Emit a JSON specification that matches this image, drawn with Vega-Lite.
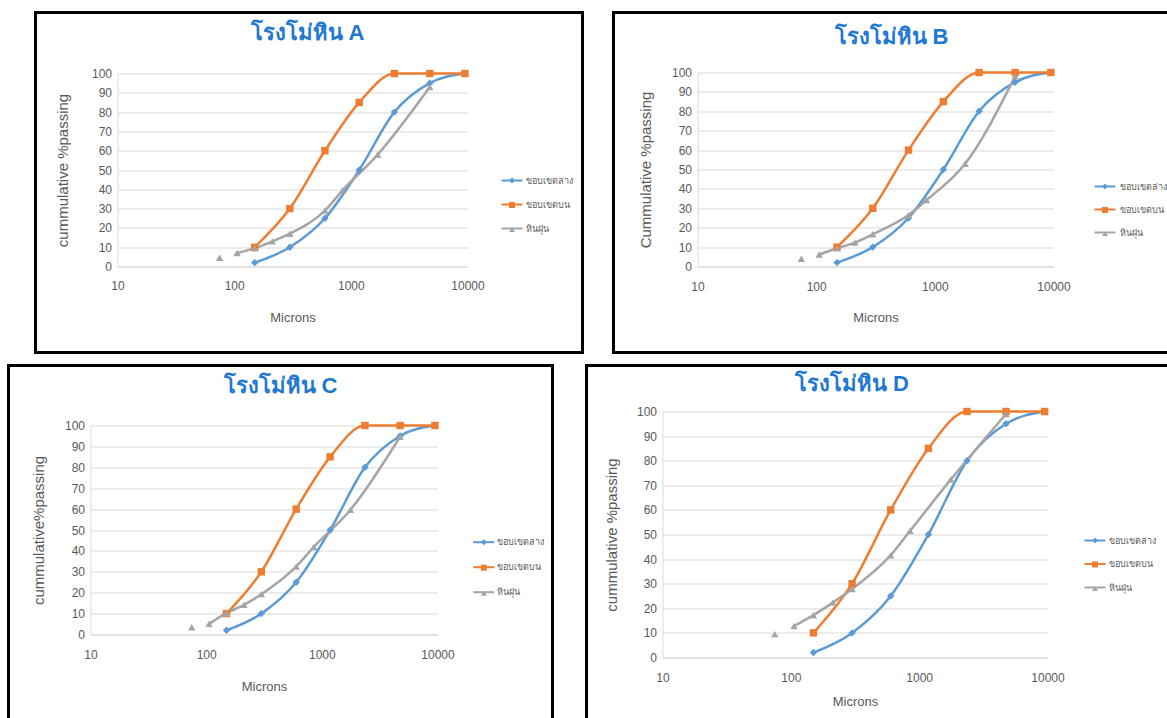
{
  "$schema": "https://vega.github.io/schema/vega-lite/v6.json",
  "padding": {"left": 6.5, "top": 10.5, "right": 0, "bottom": 0},
  "background": "white",
  "config": {
    "font": "Liberation Sans",
    "view": {"stroke": null},
    "axis": {"labelColor": "#595959", "titleColor": "#595959", "titleFontWeight": "normal", "domainColor": "#d9d9d9", "gridColor": "#d9d9d9", "ticks": false, "tickSize": 0, "labelFontSize": 12},
    "title": {"fontSize": 22, "fontWeight": "bold", "color": "#1f78d1", "frame": "group", "anchor": "middle", "baseline": "alphabetic"}
  },
  "datasets": {
    "sieve": [
      {"panel": "A", "series": "ขอบเขตล่าง", "micron": 150, "pct": 2},
      {"panel": "A", "series": "ขอบเขตล่าง", "micron": 300, "pct": 10},
      {"panel": "A", "series": "ขอบเขตล่าง", "micron": 600, "pct": 25},
      {"panel": "A", "series": "ขอบเขตล่าง", "micron": 1180, "pct": 50},
      {"panel": "A", "series": "ขอบเขตล่าง", "micron": 2360, "pct": 80},
      {"panel": "A", "series": "ขอบเขตล่าง", "micron": 4750, "pct": 95},
      {"panel": "A", "series": "ขอบเขตล่าง", "micron": 9500, "pct": 100},
      {"panel": "A", "series": "ขอบเขตบน", "micron": 150, "pct": 10},
      {"panel": "A", "series": "ขอบเขตบน", "micron": 300, "pct": 30},
      {"panel": "A", "series": "ขอบเขตบน", "micron": 600, "pct": 60},
      {"panel": "A", "series": "ขอบเขตบน", "micron": 1180, "pct": 85},
      {"panel": "A", "series": "ขอบเขตบน", "micron": 2360, "pct": 100},
      {"panel": "A", "series": "ขอบเขตบน", "micron": 4750, "pct": 100},
      {"panel": "A", "series": "ขอบเขตบน", "micron": 9500, "pct": 100},
      {"panel": "A", "series": "หินฝุ่น", "micron": 75, "pct": 4.5},
      {"panel": "A", "series": "หินฝุ่น", "micron": 106, "pct": 7},
      {"panel": "A", "series": "หินฝุ่น", "micron": 150, "pct": 9.5},
      {"panel": "A", "series": "หินฝุ่น", "micron": 212, "pct": 13},
      {"panel": "A", "series": "หินฝุ่น", "micron": 300, "pct": 17},
      {"panel": "A", "series": "หินฝุ่น", "micron": 600, "pct": 29},
      {"panel": "A", "series": "หินฝุ่น", "micron": 850, "pct": 39.5},
      {"panel": "A", "series": "หินฝุ่น", "micron": 1700, "pct": 58},
      {"panel": "A", "series": "หินฝุ่น", "micron": 4750, "pct": 93},
      {"panel": "B", "series": "ขอบเขตล่าง", "micron": 150, "pct": 2},
      {"panel": "B", "series": "ขอบเขตล่าง", "micron": 300, "pct": 10},
      {"panel": "B", "series": "ขอบเขตล่าง", "micron": 600, "pct": 25},
      {"panel": "B", "series": "ขอบเขตล่าง", "micron": 1180, "pct": 50},
      {"panel": "B", "series": "ขอบเขตล่าง", "micron": 2360, "pct": 80},
      {"panel": "B", "series": "ขอบเขตล่าง", "micron": 4750, "pct": 95},
      {"panel": "B", "series": "ขอบเขตล่าง", "micron": 9500, "pct": 100},
      {"panel": "B", "series": "ขอบเขตบน", "micron": 150, "pct": 10},
      {"panel": "B", "series": "ขอบเขตบน", "micron": 300, "pct": 30},
      {"panel": "B", "series": "ขอบเขตบน", "micron": 600, "pct": 60},
      {"panel": "B", "series": "ขอบเขตบน", "micron": 1180, "pct": 85},
      {"panel": "B", "series": "ขอบเขตบน", "micron": 2360, "pct": 100},
      {"panel": "B", "series": "ขอบเขตบน", "micron": 4750, "pct": 100},
      {"panel": "B", "series": "ขอบเขตบน", "micron": 9500, "pct": 100},
      {"panel": "B", "series": "หินฝุ่น", "micron": 75, "pct": 4},
      {"panel": "B", "series": "หินฝุ่น", "micron": 106, "pct": 6.2},
      {"panel": "B", "series": "หินฝุ่น", "micron": 150, "pct": 9.4},
      {"panel": "B", "series": "หินฝุ่น", "micron": 212, "pct": 12.3},
      {"panel": "B", "series": "หินฝุ่น", "micron": 300, "pct": 16.6},
      {"panel": "B", "series": "หินฝุ่น", "micron": 600, "pct": 26.5},
      {"panel": "B", "series": "หินฝุ่น", "micron": 850, "pct": 34.2},
      {"panel": "B", "series": "หินฝุ่น", "micron": 1800, "pct": 53},
      {"panel": "B", "series": "หินฝุ่น", "micron": 4750, "pct": 98},
      {"panel": "C", "series": "ขอบเขตล่าง", "micron": 150, "pct": 2},
      {"panel": "C", "series": "ขอบเขตล่าง", "micron": 300, "pct": 10},
      {"panel": "C", "series": "ขอบเขตล่าง", "micron": 600, "pct": 25},
      {"panel": "C", "series": "ขอบเขตล่าง", "micron": 1180, "pct": 50},
      {"panel": "C", "series": "ขอบเขตล่าง", "micron": 2360, "pct": 80},
      {"panel": "C", "series": "ขอบเขตล่าง", "micron": 4750, "pct": 95},
      {"panel": "C", "series": "ขอบเขตล่าง", "micron": 9500, "pct": 100},
      {"panel": "C", "series": "ขอบเขตบน", "micron": 150, "pct": 10},
      {"panel": "C", "series": "ขอบเขตบน", "micron": 300, "pct": 30},
      {"panel": "C", "series": "ขอบเขตบน", "micron": 600, "pct": 60},
      {"panel": "C", "series": "ขอบเขตบน", "micron": 1180, "pct": 85},
      {"panel": "C", "series": "ขอบเขตบน", "micron": 2360, "pct": 100},
      {"panel": "C", "series": "ขอบเขตบน", "micron": 4750, "pct": 100},
      {"panel": "C", "series": "ขอบเขตบน", "micron": 9500, "pct": 100},
      {"panel": "C", "series": "หินฝุ่น", "micron": 75, "pct": 3.5},
      {"panel": "C", "series": "หินฝุ่น", "micron": 106, "pct": 5.1},
      {"panel": "C", "series": "หินฝุ่น", "micron": 150, "pct": 10.2},
      {"panel": "C", "series": "หินฝุ่น", "micron": 212, "pct": 14.2},
      {"panel": "C", "series": "หินฝุ่น", "micron": 300, "pct": 19.3},
      {"panel": "C", "series": "หินฝุ่น", "micron": 600, "pct": 32.5},
      {"panel": "C", "series": "หินฝุ่น", "micron": 850, "pct": 41.8},
      {"panel": "C", "series": "หินฝุ่น", "micron": 1770, "pct": 59.7},
      {"panel": "C", "series": "หินฝุ่น", "micron": 4750, "pct": 94.6},
      {"panel": "D", "series": "ขอบเขตล่าง", "micron": 150, "pct": 2},
      {"panel": "D", "series": "ขอบเขตล่าง", "micron": 300, "pct": 10},
      {"panel": "D", "series": "ขอบเขตล่าง", "micron": 600, "pct": 25},
      {"panel": "D", "series": "ขอบเขตล่าง", "micron": 1180, "pct": 50},
      {"panel": "D", "series": "ขอบเขตล่าง", "micron": 2360, "pct": 80},
      {"panel": "D", "series": "ขอบเขตล่าง", "micron": 4750, "pct": 95},
      {"panel": "D", "series": "ขอบเขตล่าง", "micron": 9500, "pct": 100},
      {"panel": "D", "series": "ขอบเขตบน", "micron": 150, "pct": 10},
      {"panel": "D", "series": "ขอบเขตบน", "micron": 300, "pct": 30},
      {"panel": "D", "series": "ขอบเขตบน", "micron": 600, "pct": 60},
      {"panel": "D", "series": "ขอบเขตบน", "micron": 1180, "pct": 85},
      {"panel": "D", "series": "ขอบเขตบน", "micron": 2360, "pct": 100},
      {"panel": "D", "series": "ขอบเขตบน", "micron": 4750, "pct": 100},
      {"panel": "D", "series": "ขอบเขตบน", "micron": 9500, "pct": 100},
      {"panel": "D", "series": "หินฝุ่น", "micron": 75, "pct": 9.5},
      {"panel": "D", "series": "หินฝุ่น", "micron": 106, "pct": 12.8},
      {"panel": "D", "series": "หินฝุ่น", "micron": 150, "pct": 17.2},
      {"panel": "D", "series": "หินฝุ่น", "micron": 212, "pct": 22.3},
      {"panel": "D", "series": "หินฝุ่น", "micron": 300, "pct": 27.8},
      {"panel": "D", "series": "หินฝุ่น", "micron": 600, "pct": 41.6},
      {"panel": "D", "series": "หินฝุ่น", "micron": 850, "pct": 51.5},
      {"panel": "D", "series": "หินฝุ่น", "micron": 1760, "pct": 72.3},
      {"panel": "D", "series": "หินฝุ่น", "micron": 4750, "pct": 99}
    ],
    "none": []
  },
  "spacing": 9,
  "resolve": {"scale": {"color": "independent", "stroke": "independent", "shape": "independent"}, "legend": {"color": "independent", "stroke": "independent", "shape": "independent"}},
  "vconcat": [
    {
      "spacing": 24,
      "resolve": {"scale": {"color": "independent", "stroke": "independent", "shape": "independent"}, "legend": {"color": "independent", "stroke": "independent", "shape": "independent"}},
      "hconcat": [
        {"width": 1, "height": 1, "data": {"name": "none"}, "mark": {"type": "point", "opacity": 0}},
        {
          "spacing": 27,
          "resolve": {"scale": {"color": "independent", "stroke": "independent", "shape": "independent"}, "legend": {"color": "independent", "stroke": "independent", "shape": "independent"}},
          "hconcat": [
            {
              "width": 547, "height": 340,
              "view": {"stroke": "black", "strokeWidth": 3},
              "data": {"name": "sieve"},
              "title": {"text": "โรงโม่หิน A", "dx": -1.5, "offset": -32.5},
              "transform": [{"filter": "datum.panel == 'A'"}],
              "encoding": {
                "x": {"field": "micron", "type": "quantitative", "scale": {"type": "log", "domain": [10, 10000], "range": [82, 432]}, "axis": {"values": [10, 100, 1000, 10000], "format": "d", "grid": false, "offset": -86, "labelPadding": 14, "labelFlush": false, "title": "Microns", "titleFontSize": 13, "titlePadding": 20}},
                "y": {"field": "pct", "type": "quantitative", "scale": {"domain": [0, 100], "range": [254, 61]}, "axis": {"values": [0, 10, 20, 30, 40, 50, 60, 70, 80, 90, 100], "grid": true, "offset": -82, "labelPadding": 6, "title": "cummulative %passing", "titleFontSize": 15, "titleX": -47.5}}
              },
              "layer": [
                {"transform": [{"filter": "datum.series != 'หินฝุ่น' || datum.micron > 80"}], "mark": {"type": "line", "interpolate": "monotone", "strokeWidth": 2.5},
                 "encoding": {"stroke": {"field": "series", "type": "nominal", "sort": ["ขอบเขตล่าง", "ขอบเขตบน", "หินฝุ่น"], "scale": {"range": ["#5B9BD5", "#ED7D31", "#A5A5A5"]},
                   "legend": {"orient": "none", "legendX": 465, "legendY": 156.5, "title": null, "symbolType": "stroke", "symbolSize": 441, "symbolStrokeWidth": 2, "labelFontSize": 9, "labelColor": "#595959", "labelOffset": 2, "rowPadding": 7, "padding": 0}}}},
                {"mark": {"type": "point", "filled": true, "size": 55, "opacity": 1},
                 "encoding": {
                   "color": {"field": "series", "type": "nominal", "scale": {"domain": ["ขอบเขตล่าง", "ขอบเขตบน", "หินฝุ่น"], "range": ["#5B9BD5", "#ED7D31", "#A5A5A5"]},
                     "legend": {"orient": "none", "legendX": 472, "legendY": 163.5, "title": null, "symbolSize": 36, "labelFontSize": 9, "labelExpr": "''", "labelOffset": 2, "rowPadding": 14.5, "padding": 0}},
                   "shape": {"field": "series", "type": "nominal", "scale": {"domain": ["ขอบเขตล่าง", "ขอบเขตบน", "หินฝุ่น"], "range": ["diamond", "square", "triangle-up"]},
                     "legend": {"orient": "none", "legendX": 472, "legendY": 163.5, "title": null, "symbolSize": 36, "labelFontSize": 9, "labelExpr": "''", "labelOffset": 2, "rowPadding": 14.5, "padding": 0}}
                 }}
              ]
            },
            {
              "width": 557, "height": 340,
              "view": {"stroke": "black", "strokeWidth": 3},
              "data": {"name": "sieve"},
              "title": {"text": "โรงโม่หิน B", "dx": -0.5, "offset": -36.5},
              "transform": [{"filter": "datum.panel == 'B'"}],
              "encoding": {
                "x": {"field": "micron", "type": "quantitative", "scale": {"type": "log", "domain": [10, 10000], "range": [84, 440]}, "axis": {"values": [10, 100, 1000, 10000], "format": "d", "grid": false, "offset": -86, "labelPadding": 15, "labelFlush": false, "title": "Microns", "titleFontSize": 13, "titlePadding": 19}},
                "y": {"field": "pct", "type": "quantitative", "scale": {"domain": [0, 100], "range": [254, 60]}, "axis": {"values": [0, 10, 20, 30, 40, 50, 60, 70, 80, 90, 100], "grid": true, "offset": -84, "labelPadding": 6, "title": "Cummulative %passing", "titleFontSize": 15, "titleX": -44.5}}
              },
              "layer": [
                {"transform": [{"filter": "datum.series != 'หินฝุ่น' || datum.micron > 80"}], "mark": {"type": "line", "interpolate": "monotone", "strokeWidth": 2.5},
                 "encoding": {"stroke": {"field": "series", "type": "nominal", "sort": ["ขอบเขตล่าง", "ขอบเขตบน", "หินฝุ่น"], "scale": {"range": ["#5B9BD5", "#ED7D31", "#A5A5A5"]},
                   "legend": {"orient": "none", "legendX": 480, "legendY": 162.5, "title": null, "symbolType": "stroke", "symbolSize": 441, "symbolStrokeWidth": 2, "labelFontSize": 9, "labelColor": "#595959", "labelOffset": 3, "rowPadding": 6, "padding": 0}}}},
                {"mark": {"type": "point", "filled": true, "size": 55, "opacity": 1},
                 "encoding": {
                   "color": {"field": "series", "type": "nominal", "scale": {"domain": ["ขอบเขตล่าง", "ขอบเขตบน", "หินฝุ่น"], "range": ["#5B9BD5", "#ED7D31", "#A5A5A5"]},
                     "legend": {"orient": "none", "legendX": 487, "legendY": 169.5, "title": null, "symbolSize": 36, "labelFontSize": 9, "labelExpr": "''", "labelOffset": 2, "rowPadding": 13.5, "padding": 0}},
                   "shape": {"field": "series", "type": "nominal", "scale": {"domain": ["ขอบเขตล่าง", "ขอบเขตบน", "หินฝุ่น"], "range": ["diamond", "square", "triangle-up"]},
                     "legend": {"orient": "none", "legendX": 487, "legendY": 169.5, "title": null, "symbolSize": 36, "labelFontSize": 9, "labelExpr": "''", "labelOffset": 2, "rowPadding": 13.5, "padding": 0}}
                 }}
              ]
            }
          ]
        }
      ]
    },
    {
      "spacing": 30,
      "resolve": {"scale": {"color": "independent", "stroke": "independent", "shape": "independent"}, "legend": {"color": "independent", "stroke": "independent", "shape": "independent"}},
      "hconcat": [
        {
          "width": 544, "height": 360,
          "view": {"stroke": "black", "strokeWidth": 3},
          "data": {"name": "sieve"},
          "title": {"text": "โรงโม่หิน C", "dx": 0, "offset": -32.5},
          "transform": [{"filter": "datum.panel == 'C'"}],
          "encoding": {
            "x": {"field": "micron", "type": "quantitative", "scale": {"type": "log", "domain": [10, 10000], "range": [82, 429]}, "axis": {"values": [10, 100, 1000, 10000], "format": "d", "grid": false, "offset": -91, "labelPadding": 15, "labelFlush": false, "title": "Microns", "titleFontSize": 13, "titlePadding": 20}},
            "y": {"field": "pct", "type": "quantitative", "scale": {"domain": [0, 100], "range": [269, 60]}, "axis": {"values": [0, 10, 20, 30, 40, 50, 60, 70, 80, 90, 100], "grid": true, "offset": -82, "labelPadding": 6, "title": "cummulative%passing", "titleFontSize": 15, "titleX": -44.5}}
          },
          "layer": [
            {"transform": [{"filter": "datum.series != 'หินฝุ่น' || datum.micron > 80"}], "mark": {"type": "line", "interpolate": "monotone", "strokeWidth": 2.5},
             "encoding": {"stroke": {"field": "series", "type": "nominal", "sort": ["ขอบเขตล่าง", "ขอบเขตบน", "หินฝุ่น"], "scale": {"range": ["#5B9BD5", "#ED7D31", "#A5A5A5"]},
               "legend": {"orient": "none", "legendX": 463.8, "legendY": 165.2, "title": null, "symbolType": "stroke", "symbolSize": 441, "symbolStrokeWidth": 2, "labelFontSize": 9, "labelColor": "#595959", "labelOffset": 2, "rowPadding": 8, "padding": 0}}}},
            {"mark": {"type": "point", "filled": true, "size": 55, "opacity": 1},
             "encoding": {
               "color": {"field": "series", "type": "nominal", "scale": {"domain": ["ขอบเขตล่าง", "ขอบเขตบน", "หินฝุ่น"], "range": ["#5B9BD5", "#ED7D31", "#A5A5A5"]},
                 "legend": {"orient": "none", "legendX": 470.8, "legendY": 172.2, "title": null, "symbolSize": 36, "labelFontSize": 9, "labelExpr": "''", "labelOffset": 2, "rowPadding": 15.5, "padding": 0}},
               "shape": {"field": "series", "type": "nominal", "scale": {"domain": ["ขอบเขตล่าง", "ขอบเขตบน", "หินฝุ่น"], "range": ["diamond", "square", "triangle-up"]},
                 "legend": {"orient": "none", "legendX": 470.8, "legendY": 172.2, "title": null, "symbolSize": 36, "labelFontSize": 9, "labelExpr": "''", "labelOffset": 2, "rowPadding": 15.5, "padding": 0}}
             }}
          ]
        },
        {
          "width": 584, "height": 360,
          "view": {"stroke": "black", "strokeWidth": 3},
          "data": {"name": "sieve"},
          "title": {"text": "โรงโม่หิน D", "dx": -26.5, "offset": -30.5},
          "transform": [{"filter": "datum.panel == 'D'"}],
          "encoding": {
            "x": {"field": "micron", "type": "quantitative", "scale": {"type": "log", "domain": [10, 10000], "range": [76, 461]}, "axis": {"values": [10, 100, 1000, 10000], "format": "d", "grid": false, "offset": -68, "labelPadding": 15, "labelFlush": false, "title": "Microns", "titleFontSize": 13, "titlePadding": 12}},
            "y": {"field": "pct", "type": "quantitative", "scale": {"domain": [0, 100], "range": [292, 46]}, "axis": {"values": [0, 10, 20, 30, 40, 50, 60, 70, 80, 90, 100], "grid": true, "offset": -76, "labelPadding": 6, "title": "cummulative %passing", "titleFontSize": 15, "titleX": -43.5}}
          },
          "layer": [
            {"transform": [{"filter": "datum.series != 'หินฝุ่น' || datum.micron > 80"}], "mark": {"type": "line", "interpolate": "monotone", "strokeWidth": 2.5},
             "encoding": {"stroke": {"field": "series", "type": "nominal", "sort": ["ขอบเขตล่าง", "ขอบเขตบน", "หินฝุ่น"], "scale": {"range": ["#5B9BD5", "#ED7D31", "#A5A5A5"]},
               "legend": {"orient": "none", "legendX": 497, "legendY": 163.5, "title": null, "symbolType": "stroke", "symbolSize": 441, "symbolStrokeWidth": 2, "labelFontSize": 9, "labelColor": "#595959", "labelOffset": 2, "rowPadding": 6.5, "padding": 0}}}},
            {"mark": {"type": "point", "filled": true, "size": 55, "opacity": 1},
             "encoding": {
               "color": {"field": "series", "type": "nominal", "scale": {"domain": ["ขอบเขตล่าง", "ขอบเขตบน", "หินฝุ่น"], "range": ["#5B9BD5", "#ED7D31", "#A5A5A5"]},
                 "legend": {"orient": "none", "legendX": 504, "legendY": 170.5, "title": null, "symbolSize": 36, "labelFontSize": 9, "labelExpr": "''", "labelOffset": 2, "rowPadding": 14, "padding": 0}},
               "shape": {"field": "series", "type": "nominal", "scale": {"domain": ["ขอบเขตล่าง", "ขอบเขตบน", "หินฝุ่น"], "range": ["diamond", "square", "triangle-up"]},
                 "legend": {"orient": "none", "legendX": 504, "legendY": 170.5, "title": null, "symbolSize": 36, "labelFontSize": 9, "labelExpr": "''", "labelOffset": 2, "rowPadding": 14, "padding": 0}}
             }}
          ]
        }
      ]
    }
  ]
}
